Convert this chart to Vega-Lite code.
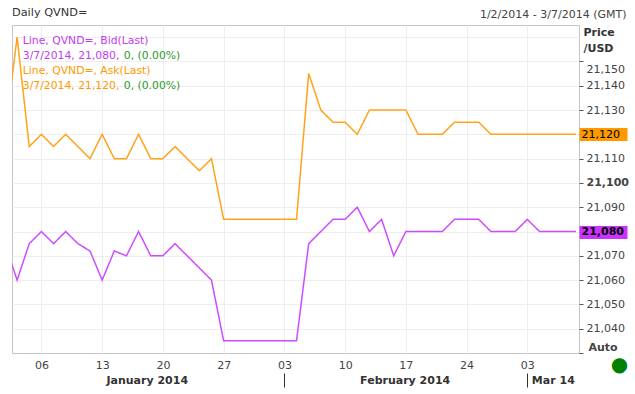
{
  "$schema": "https://vega.github.io/schema/vega-lite/v6.json",
  "width": 567,
  "height": 328,
  "autosize": {"type": "none"},
  "padding": {"left": 12, "top": 25, "right": 56, "bottom": 41},
  "background": "white",
  "config": {
    "font": "DejaVu Sans",
    "view": {"stroke": "#c4c4c4", "strokeWidth": 1},
    "axis": {"gridColor": "#eeeeee", "gridWidth": 1, "labelFont": "DejaVu Sans", "labelFontSize": 11, "labelColor": "#444444", "titleFont": "DejaVu Sans"},
    "legend": {"labelFont": "DejaVu Sans"}
  },
  "title": {"text": "Daily QVND=", "anchor": "start", "frame": "group", "fontSize": 11.3, "fontWeight": "normal", "color": "#333333", "offset": 4, "dy": 14},
  "data": {
    "values": [
      {"n": 0, "date": "2014-01-01", "bid": 21075, "ask": 21120},
      {"n": 1, "date": "2014-01-02", "bid": 21060, "ask": 21160},
      {"n": 2, "date": "2014-01-03", "bid": 21075, "ask": 21115},
      {"n": 3, "date": "2014-01-06", "bid": 21080, "ask": 21120},
      {"n": 4, "date": "2014-01-07", "bid": 21075, "ask": 21115},
      {"n": 5, "date": "2014-01-08", "bid": 21080, "ask": 21120},
      {"n": 6, "date": "2014-01-09", "bid": 21075, "ask": 21115},
      {"n": 7, "date": "2014-01-10", "bid": 21072, "ask": 21110},
      {"n": 8, "date": "2014-01-13", "bid": 21060, "ask": 21120},
      {"n": 9, "date": "2014-01-14", "bid": 21072, "ask": 21110},
      {"n": 10, "date": "2014-01-15", "bid": 21070, "ask": 21110},
      {"n": 11, "date": "2014-01-16", "bid": 21080, "ask": 21120},
      {"n": 12, "date": "2014-01-17", "bid": 21070, "ask": 21110},
      {"n": 13, "date": "2014-01-20", "bid": 21070, "ask": 21110},
      {"n": 14, "date": "2014-01-21", "bid": 21075, "ask": 21115},
      {"n": 15, "date": "2014-01-22", "bid": 21070, "ask": 21110},
      {"n": 16, "date": "2014-01-23", "bid": 21065, "ask": 21105},
      {"n": 17, "date": "2014-01-24", "bid": 21060, "ask": 21110},
      {"n": 18, "date": "2014-01-27", "bid": 21035, "ask": 21085},
      {"n": 19, "date": "2014-01-28", "bid": 21035, "ask": 21085},
      {"n": 20, "date": "2014-01-29", "bid": 21035, "ask": 21085},
      {"n": 21, "date": "2014-01-30", "bid": 21035, "ask": 21085},
      {"n": 22, "date": "2014-01-31", "bid": 21035, "ask": 21085},
      {"n": 23, "date": "2014-02-03", "bid": 21035, "ask": 21085},
      {"n": 24, "date": "2014-02-04", "bid": 21035, "ask": 21085},
      {"n": 25, "date": "2014-02-05", "bid": 21075, "ask": 21145},
      {"n": 26, "date": "2014-02-06", "bid": 21080, "ask": 21130},
      {"n": 27, "date": "2014-02-07", "bid": 21085, "ask": 21125},
      {"n": 28, "date": "2014-02-10", "bid": 21085, "ask": 21125},
      {"n": 29, "date": "2014-02-11", "bid": 21090, "ask": 21120},
      {"n": 30, "date": "2014-02-12", "bid": 21080, "ask": 21130},
      {"n": 31, "date": "2014-02-13", "bid": 21085, "ask": 21130},
      {"n": 32, "date": "2014-02-14", "bid": 21070, "ask": 21130},
      {"n": 33, "date": "2014-02-17", "bid": 21080, "ask": 21130},
      {"n": 34, "date": "2014-02-18", "bid": 21080, "ask": 21120},
      {"n": 35, "date": "2014-02-19", "bid": 21080, "ask": 21120},
      {"n": 36, "date": "2014-02-20", "bid": 21080, "ask": 21120},
      {"n": 37, "date": "2014-02-21", "bid": 21085, "ask": 21125},
      {"n": 38, "date": "2014-02-24", "bid": 21085, "ask": 21125},
      {"n": 39, "date": "2014-02-25", "bid": 21085, "ask": 21125},
      {"n": 40, "date": "2014-02-26", "bid": 21080, "ask": 21120},
      {"n": 41, "date": "2014-02-27", "bid": 21080, "ask": 21120},
      {"n": 42, "date": "2014-02-28", "bid": 21080, "ask": 21120},
      {"n": 43, "date": "2014-03-03", "bid": 21085, "ask": 21120},
      {"n": 44, "date": "2014-03-04", "bid": 21080, "ask": 21120},
      {"n": 45, "date": "2014-03-05", "bid": 21080, "ask": 21120},
      {"n": 46, "date": "2014-03-06", "bid": 21080, "ask": 21120},
      {"n": 47, "date": "2014-03-07", "bid": 21080, "ask": 21120}
    ]
  },
  "layer": [
    {
      "mark": {"type": "line", "strokeWidth": 1.5, "clip": true},
      "encoding": {
        "x": {
          "field": "n", "type": "quantitative",
          "scale": {"domain": [0.58, 47.25], "nice": false, "zero": false},
          "axis": {
            "orient": "bottom", "title": null,
            "values": [3, 8, 13, 18, 23, 28, 33, 38, 43],
            "labelExpr": "['06','13','20','27','03','10','17','24','03'][round((datum.value-3)/5)]",
            "grid": true, "ticks": false, "tickSize": 0, "domain": false,
            "labelPadding": 6, "labelBaseline": "top", "labelColor": "#444444", "labelFontSize": 11,
            "labelOverlap": false, "labelFlush": false, "labelBound": false
          }
        },
        "y": {
          "field": "ask", "type": "quantitative",
          "scale": {"domain": [21030, 21165], "nice": false, "zero": false},
          "axis": {
            "orient": "right",
            "values": [21030, 21040, 21050, 21060, 21070, 21080, 21090, 21100, 21110, 21120, 21130, 21140, 21150, 21160],
            "labelExpr": "datum.value == 21030 ? 'Auto' : (datum.value == 21080 || datum.value == 21120 || datum.value == 21160) ? '' : format(datum.value, ',')",
            "grid": true,
            "gridOpacity": {"condition": {"test": "datum.value == 21030", "value": 0}, "value": 1},
            "domain": false, "ticks": true, "tickSize": 4, "tickColor": "#555555",
            "tickOpacity": {"condition": {"test": "datum.value == 21160", "value": 0}, "value": 1},
            "labelPadding": {"condition": {"test": "datum.value == 21030", "value": 5}, "value": 3},
            "labelOffset": {"condition": [{"test": "datum.value == 21030", "value": -6}, {"test": "datum.value == 21150", "value": 8}], "value": 0},
            "labelFontWeight": {"condition": {"test": "datum.value == 21100 || datum.value == 21030", "value": "bold"}, "value": "normal"},
            "labelColor": "#444444", "labelBaseline": "middle",
            "labelOverlap": false, "labelBound": false, "labelFlush": false,
            "title": ["Price", "/USD"], "titleAngle": 0, "titleAlign": "left", "titleBaseline": "top",
            "titleX": 4, "titleY": 1, "titleFontSize": 11, "titleFontWeight": "bold", "titleColor": "#333333", "titleLineHeight": 16
          }
        },
        "color": {
          "datum": "Ask", "type": "nominal",
          "scale": {"domain": ["Bid", "Ask"], "range": ["#cc4dff", "#ffa31a"]},
          "legend": {
            "title": null, "orient": "top-left", "offset": 11, "padding": 0,
            "symbolSize": 0, "symbolOpacity": 0, "symbolStrokeWidth": 0, "labelOffset": -11,
            "labelFontSize": 10.8, "labelLimit": 400, "rowPadding": 3,
            "labelExpr": "datum.value == 'Bid' ? ['Line, QVND=, Bid(Last)', '3/7/2014, 21,080,'] : ['Line, QVND=, Ask(Last)', '3/7/2014, 21,120,']",
            "encoding": {"labels": {"fill": {"condition": {"test": "datum.value == 'Bid'", "value": "#c23cf0"}, "value": "#ff9900"}, "lineHeight": {"value": 15}}}
          }
        },
        "strokeDash": {
          "datum": "Ask", "type": "nominal",
          "scale": {"domain": ["Bid", "Ask"], "range": [[1, 0], [1, 0]]},
          "legend": {
            "title": null, "orient": "none", "legendX": 112, "legendY": 11, "padding": 0,
            "symbolSize": 0, "symbolOpacity": 0, "symbolStrokeWidth": 0, "labelOffset": -11,
            "labelFontSize": 10.8, "labelLimit": 400, "rowPadding": 3,
            "labelExpr": "['', '0, (0.00%)']", "labelColor": "#2a9a2a",
            "encoding": {"labels": {"lineHeight": {"value": 15}}}
          }
        }
      }
    },
    {
      "mark": {"type": "line", "strokeWidth": 1.5, "clip": true},
      "encoding": {
        "x": {
          "field": "n", "type": "quantitative",
          "axis": {
            "orient": "bottom", "offset": 20, "title": null,
            "values": [11.67, 23, 32.9, 43],
            "labelExpr": "datum.value == 23 ? '' : datum.value == 43 ? 'Mar 14' : datum.value < 20 ? 'January 2014' : 'February 2014'",
            "grid": false, "domain": false, "ticks": true, "tickSize": 14, "tickColor": "#333333",
            "tickOpacity": {"condition": {"test": "datum.value == 23 || datum.value == 43", "value": 1}, "value": 0},
            "labelFontWeight": "bold", "labelColor": "#333333", "labelFontSize": 11,
            "labelPadding": -13, "labelBaseline": "top",
            "labelAlign": {"condition": {"test": "datum.value == 43", "value": "left"}, "value": "center"},
            "labelOffset": {"condition": {"test": "datum.value == 43", "value": 4}, "value": 0},
            "labelOverlap": false, "labelFlush": false, "labelBound": false
          }
        },
        "y": {
          "field": "bid", "type": "quantitative",
          "axis": {
            "orient": "right",
            "values": [21030, 21080, 21120],
            "labelExpr": "datum.value == 21030 ? '●' : format(datum.value, ',')",
            "grid": false, "domain": false, "ticks": true, "tickSize": 48, "tickWidth": 13,
            "tickColor": {"condition": {"test": "datum.value == 21120", "value": "#ff9900"}, "value": "#cc33ff"},
            "tickOpacity": {"condition": {"test": "datum.value == 21030", "value": 0}, "value": 1},
            "labelPadding": {"condition": {"test": "datum.value == 21030", "value": -8}, "value": -46},
            "labelAlign": {"condition": {"test": "datum.value == 21030", "value": "center"}, "value": "left"},
            "labelOffset": {"condition": {"test": "datum.value == 21030", "value": 11}, "value": 0},
            "labelFontSize": {"condition": {"test": "datum.value == 21030", "value": 20}, "value": 11},
            "labelColor": {"condition": {"test": "datum.value == 21030", "value": "#008000"}, "value": "#000000"},
            "labelFontWeight": {"condition": {"test": "datum.value == 21080", "value": "bold"}, "value": "normal"},
            "labelBaseline": "middle", "labelOverlap": false, "labelBound": false, "labelFlush": false,
            "title": "1/2/2014 - 3/7/2014 (GMT)", "titleAngle": 0, "titleAlign": "right", "titleBaseline": "middle",
            "titleX": 47, "titleY": -11, "titleFontWeight": "normal", "titleFontSize": 11, "titleColor": "#444444"
          }
        },
        "color": {"datum": "Bid", "type": "nominal"},
        "strokeDash": {"datum": "Bid", "type": "nominal"}
      }
    }
  ],
  "resolve": {"axis": {"x": "independent", "y": "independent"}}
}
